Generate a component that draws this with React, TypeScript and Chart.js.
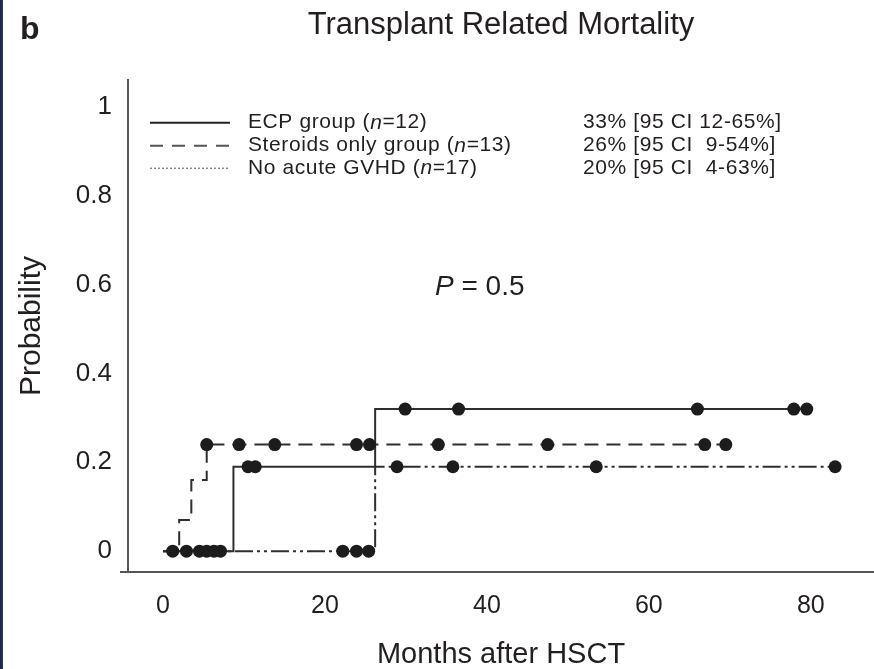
import React, { useEffect, useRef } from "react";
import { Chart, registerables } from "chart.js";

Chart.register(...registerables);

// ---------- data ----------
const xTickValues = [0, 20, 40, 60, 80];
const yTickValues = [0, 0.2, 0.4, 0.6, 0.8, 1];
const yTickLabels = ["0", "0.2", "0.4", "0.6", "0.8", "1"];

// Step curves (time of event in months, cumulative probability after it)
const ecpStepMonths = [0, 8.7, 26.2, 79.5];
const ecpStepProb = [0, 0.19, 0.32, 0.32];
const steroidStepMonths = [0, 2.0, 3.5, 5.4, 69.5];
const steroidStepProb = [0, 0.07, 0.16, 0.24, 0.24];
const noGvhdStepMonths = [0, 26.2, 83.0];
const noGvhdStepProb = [0, 0.19, 0.19];

// Censored observations
const ecpCensorMonths = [2.9, 5.4, 7.1, 10.5, 11.4, 29.9, 36.5, 66.0, 77.9, 79.5];
const ecpCensorProb = [0, 0, 0, 0.19, 0.19, 0.32, 0.32, 0.32, 0.32, 0.32];
const steroidCensorMonths = [5.4, 9.4, 13.8, 23.9, 25.5, 34.0, 47.5, 66.9, 69.5];
const steroidCensorProb = [0.24, 0.24, 0.24, 0.24, 0.24, 0.24, 0.24, 0.24, 0.24];
const noGvhdCensorMonths = [1.2, 4.5, 6.3, 22.2, 23.9, 25.4, 28.9, 35.8, 53.5, 83.0];
const noGvhdCensorProb = [0, 0, 0, 0, 0, 0, 0.19, 0.19, 0.19, 0.19];

const seriesNames = [
  "ECP group (n=12)",
  "Steroids only group (n=13)",
  "No acute GVHD (n=17)",
];
const seriesCI = ["33% [95 CI 12-65%]", "26% [95 CI  9-54%]", "20% [95 CI  4-63%]"];

const FONT = "'Liberation Sans', Arial, Helvetica, sans-serif";
const INK = "#231f20";
const LINE = "#2e2e2e";
const DASHED = [14, 8];
const DASHDOT = [18, 4, 3, 4, 3, 4];

const pts = (xs: number[], ys: number[]) => xs.map((x, i) => ({ x, y: ys[i] }));

type Run = { t: string; italic?: boolean };

function drawRuns(ctx: CanvasRenderingContext2D, runs: Run[], x: number, y: number, size: number) {
  let cx = x;
  for (const r of runs) {
    ctx.font = `${r.italic ? "italic " : ""}${size}px ${FONT}`;
    ctx.fillText(r.t, cx, y);
    cx += ctx.measureText(r.t).width;
  }
}

function splitN(label: string): Run[] {
  const i = label.indexOf("(n");
  return [
    { t: label.slice(0, i + 1) },
    { t: "n", italic: true },
    { t: label.slice(i + 2) },
  ];
}

const decorPlugin = {
  id: "decor",
  beforeDatasetsDraw(chart: any) {
    const { ctx, chartArea } = chart;
    ctx.save();
    ctx.strokeStyle = "#555";
    ctx.lineWidth = 2;
    ctx.beginPath();
    ctx.moveTo(chartArea.left - 8, chartArea.bottom);
    ctx.lineTo(chartArea.left, chartArea.bottom);
    ctx.stroke();
    ctx.restore();
  },
  afterDraw(chart: any) {
    const { ctx, chartArea } = chart;
    const L = chartArea.left;
    const T = chartArea.top;
    ctx.save();
    ctx.fillStyle = INK;
    // panel letter
    ctx.font = `bold 32px ${FONT}`;
    ctx.textBaseline = "alphabetic";
    ctx.textAlign = "left";
    ctx.fillText("b", 20, 39);

    // legend
    const rowY = [T + 42.7, T + 65.7, T + 88.3];
    const dashes = [[], [13, 9], [2, 2]];
    const colors = ["#222", "#555", "#888"];
    const widths = [2, 2, 1.5];
    ctx.textBaseline = "middle";
    (ctx as any).letterSpacing = "0.6px";
    for (let i = 0; i < 3; i++) {
      ctx.save();
      ctx.strokeStyle = colors[i];
      ctx.lineWidth = widths[i];
      ctx.setLineDash(dashes[i]);
      ctx.beginPath();
      ctx.moveTo(L + 22, rowY[i]);
      ctx.lineTo(L + 102, rowY[i]);
      ctx.stroke();
      ctx.restore();
      ctx.fillStyle = INK;
      drawRuns(ctx, splitN(seriesNames[i]), L + 120, rowY[i], 21);
      ctx.font = `21px ${FONT}`;
      ctx.fillText(seriesCI[i], L + 455, rowY[i]);
    }
    (ctx as any).letterSpacing = "0px";

    // P value
    drawRuns(ctx, [{ t: "P", italic: true }, { t: " = 0.5" }], L + 307, T + 207, 28);
    ctx.restore();
  },
};

export default function App() {
  const ref = useRef<HTMLCanvasElement | null>(null);

  useEffect(() => {
    document.body.style.margin = "0";
    const canvas = ref.current;
    if (!canvas) return;

    const markerDs = (xs: number[], ys: number[]) => ({
      data: pts(xs, ys),
      showLine: false,
      pointRadius: 6.5,
      pointHoverRadius: 6.5,
      pointBackgroundColor: "#1c1c1c",
      pointBorderWidth: 0,
      pointStyle: "circle",
      clip: false,
    });
    const lineDs = (xs: number[], ys: number[], dash: number[]) => ({
      data: pts(xs, ys),
      showLine: true,
      stepped: "before",
      pointRadius: 0,
      borderColor: LINE,
      borderWidth: 2,
      borderDash: dash,
      fill: false,
      clip: false,
    });

    const chart = new Chart(canvas, {
      type: "scatter",
      data: {
        datasets: [
          { label: seriesNames[0] + " censored", ...markerDs(ecpCensorMonths, ecpCensorProb) },
          { label: seriesNames[1] + " censored", ...markerDs(steroidCensorMonths, steroidCensorProb) },
          { label: seriesNames[2] + " censored", ...markerDs(noGvhdCensorMonths, noGvhdCensorProb) },
          { label: seriesNames[0], ...lineDs(ecpStepMonths, ecpStepProb, []) },
          { label: seriesNames[1], ...lineDs(steroidStepMonths, steroidStepProb, DASHED) },
          { label: seriesNames[2], ...lineDs(noGvhdStepMonths, noGvhdStepProb, DASHDOT) },
        ] as any,
      },
      options: {
        animation: false,
        responsive: false,
        events: [],
        layout: { padding: 0, autoPadding: false },
        plugins: {
          legend: { display: false },
          tooltip: { enabled: false },
          title: {
            display: true,
            text: "Transplant Related Mortality",
            fullSize: false,
            color: INK,
            font: { family: FONT, size: 31, weight: "normal", lineHeight: 1.2 },
            padding: { top: 7, bottom: 35.8 },
          },
        },
        scales: {
          x: {
            type: "linear",
            position: "bottom",
            min: -4.32,
            max: 87.8,
            afterBuildTicks: (scale: any) => {
              scale.ticks = xTickValues.map((v) => ({ value: v }));
            },
            afterFit: (scale: any) => {
              scale.height = 97;
            },
            grid: { display: false, drawTicks: false },
            border: { display: true, color: "#555", width: 2 },
            ticks: {
              color: INK,
              font: { family: FONT, size: 25 },
              padding: 19,
              autoSkip: false,
              maxRotation: 0,
              callback: (v: any) => String(v),
            },
            title: {
              display: true,
              text: "Months after HSCT",
              color: INK,
              font: { family: FONT, size: 29, lineHeight: 1 },
              padding: { top: 0, bottom: 0 },
            },
          },
          y: {
            type: "linear",
            min: -0.047,
            max: 1.061,
            afterBuildTicks: (scale: any) => {
              scale.ticks = yTickValues.map((v) => ({ value: v }));
            },
            afterFit: (scale: any) => {
              scale.width = 128;
            },
            grid: { display: false, drawTicks: false },
            border: { display: true, color: "#555", width: 2 },
            ticks: {
              color: INK,
              font: { family: FONT, size: 26 },
              padding: 16,
              autoSkip: false,
              callback: (_v: any, i: number) => yTickLabels[i],
            },
            title: {
              display: true,
              text: "Probability",
              color: INK,
              font: { family: FONT, size: 30, lineHeight: 1.2 },
              padding: { top: 14, bottom: 0 },
            },
          },
        },
      } as any,
      plugins: [decorPlugin],
    });

    return () => chart.destroy();
  }, []);

  return (
    <div style={{ position: "relative", width: 874, height: 669, background: "#fff" }}>
      <canvas ref={ref} width={874} height={669} style={{ display: "block" }} />
      <div
        style={{
          position: "absolute",
          left: 0,
          top: 0,
          width: 3,
          height: 669,
          background: "linear-gradient(90deg, #16223f, #2a3b63)",
        }}
      />
    </div>
  );
}
